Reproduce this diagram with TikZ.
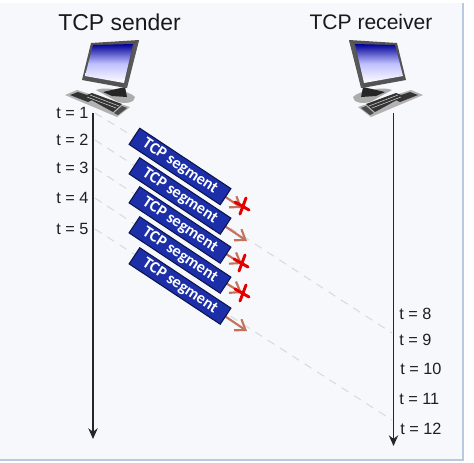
\documentclass[tikz,border=0pt]{standalone}
\usepackage{fontspec}
\setmainfont{Liberation Sans}
\newfontfamily\segfont{Carlito}
\usepackage{xcolor}
\usetikzlibrary{arrows.meta,positioning,calc}
\definecolor{panelbg}{HTML}{F7F8FB}
\definecolor{panelrule}{HTML}{B9C9E2}
\definecolor{segblue}{HTML}{1C2FA8}
\definecolor{segedge}{HTML}{0B1450}
\definecolor{pathbrown}{HTML}{C4725C}
\definecolor{dashgray}{HTML}{DADBDD}
\tikzset{
  hostlabel/.style={font=\fontsize{17.2}{20}\selectfont,text=black!90,inner sep=0pt},
  timelabel/.style={font=\fontsize{12.2}{14}\selectfont,text=black!88,inner sep=0pt,anchor=west},
  timeline/.style={line width=1.1pt,black!85,-{Stealth[length=8pt,width=7pt]}},
  trail/.style={dashgray,line width=0.8pt,dash pattern=on 6pt off 5pt},
  segbox/.style={draw=segedge,line width=0.8pt,fill=segblue,text=white,rotate=-33.5,
    minimum width=82pt,minimum height=14.5pt,inner sep=0pt,
    font=\segfont\bfseries\fontsize{12.2}{14}\selectfont},
  hop/.style={pathbrown,line width=1.6pt,-{Straight Barb[length=7pt,width=10pt]}},
  lost/.style={red!90!black,line width=2.2pt,line cap=round},
  pics/computer/.style={code={
    % keyboard and base
    \fill[gray!60] (65,95)--(77,90)--(130,107)--(117,117)--cycle;
    \fill[black!80] (70,95)--(78,92)--(96,98)--(88,102)--cycle;
    \fill[black!80] (84,96)--(92,93)--(122,104)--(113,112)--cycle;
    \fill[black!70] (114,113)--(122,106)--(127,108)--(118,115)--cycle;
    \draw[gray!35,line width=0.4pt] (87,97)--(116,108) (90,95)--(119,106);
    \fill[gray!65] (96,90) .. controls (105,86) and (130,91) .. (135,97)
      .. controls (135,103) and (125,104) .. (118,102) -- cycle;
    \fill[black!85] (103,92)--(125,87)--(127,97)--(112,96)--cycle;
    % monitor
    \fill[gray!65!black] (91,43)--(139,40)--(126,88)--(82,80)--cycle;
    \fill[black!65] (135,42)--(139,40)--(127,88)--(124,87)--cycle;
    \shade[shading angle=315,top color=blue!60!black,bottom color=white,middle color=blue!25!white]
      (93,45)--(133,44)--(124,83)--(85,76)--cycle;
  }}
}
\begin{document}
\begin{tikzpicture}[x=0.75pt,y=-0.75pt]
  \useasboundingbox (0,0) rectangle (474,462);
  \fill[white] (0,0) rectangle (474,462);
  \fill[panelbg] (0,3) rectangle (463,460);
  \draw[panelrule,line width=0.9pt] (463,3)--(463,460)--(0,460);
  % hosts
  \node[hostlabel] (sender) at (119.5,22) {TCP sender};
  \node[hostlabel,font=\fontsize{15.8}{20}\selectfont] (receiver) at (371,22) {TCP receiver};
  \pic at (0,0) {computer};
  \pic[xscale=-1] at (488,0) {computer};
  % time axes
  \coordinate (senderstart) at (93,113);
  \coordinate (senderend) at (93,439);
  \coordinate (receiverstart) at (393.5,113);
  \coordinate (receiverend) at (393.5,446);
  % sender times
  \foreach \n/\y in {1/113,2/140,3/168,4/198,5/229}{
    \node[timelabel] (s\n) at (56,\y) {t = \n};
    \coordinate (from\n) at (95,\y);
  }
  % receiver times
  \foreach \n/\x/\y in {8/399/314,9/399/340,10/400/369,11/399/399,12/400/429}{
    \node[timelabel] (r\n) at (\x,\y) {t = \n};
  }
  \coordinate (to9) at (392,333);
  \coordinate (to12) at (392,420);
  % dashed trails, behind the segments
  \draw[trail] (from1)--(165,156);
  \draw[trail] (from2)--(to9);
  \draw[trail] (from3)--(165,214);
  \draw[trail] (from4)--(165,244);
  \draw[trail] (from5)--(to12);
  \draw[timeline] (senderstart)--(senderend);
  \draw[timeline] (receiverstart)--(receiverend);
  % arrows leaving the segments
  \foreach \n/\x/\y/\a in {1/242/208/166.5,2/247/241/196,3/242/264/225,4/242/293/255,5/247/331/286}{
    \coordinate (tip\n) at (\x,\y);
    \coordinate (mid\n) at (180,\a);
    \draw[hop] (mid\n)--(tip\n);
  }
  % segments, bottom one first
  \foreach \n/\y in {5/286,4/255,3/225,2/196,1/166.5}{
    \node[segbox] (seg\n) at (180,\y) {TCP segment};
  }
  % lost ones
  \foreach \n/\x/\y in {1/242/206,3/241/263,4/242/293}{
    \draw[lost] (\x-7,\y-4)--(\x+7,\y+4) (\x+4,\y-8)--(\x-2,\y+8);
  }
\end{tikzpicture}
\end{document}
